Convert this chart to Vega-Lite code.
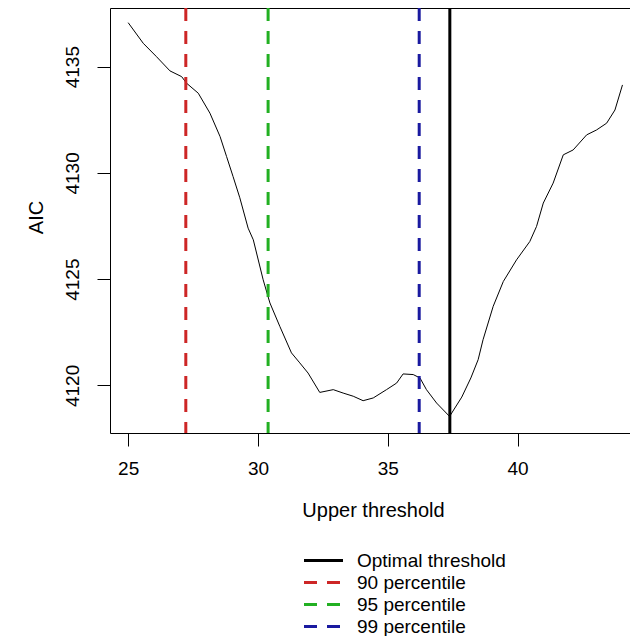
{
  "$schema": "https://vega.github.io/schema/vega-lite/v6.json",
  "autosize": {"type": "none"},
  "width": 520,
  "height": 425,
  "padding": {"left": 110, "top": 8, "right": 0, "bottom": 203},
  "background": "white",
  "config": {
    "view": {"stroke": null},
    "font": "Liberation Sans",
    "axis": {
      "domainColor": "black", "tickColor": "black", "labelColor": "black", "titleColor": "black",
      "grid": false, "labelFont": "Liberation Sans", "titleFont": "Liberation Sans",
      "labelFontSize": 19, "titleFontSize": 20, "titleFontWeight": "normal",
      "tickSize": 13, "domainWidth": 1, "tickWidth": 1
    }
  },
  "datasets": {
    "curve": [
      {"threshold": 25.00, "aic": 4137.07},
      {"threshold": 25.58, "aic": 4136.10},
      {"threshold": 26.09, "aic": 4135.47},
      {"threshold": 26.61, "aic": 4134.80},
      {"threshold": 27.06, "aic": 4134.53},
      {"threshold": 27.25, "aic": 4134.22},
      {"threshold": 27.70, "aic": 4133.75},
      {"threshold": 28.15, "aic": 4132.81},
      {"threshold": 28.54, "aic": 4131.71},
      {"threshold": 28.79, "aic": 4130.77},
      {"threshold": 29.04, "aic": 4129.83},
      {"threshold": 29.30, "aic": 4128.83},
      {"threshold": 29.62, "aic": 4127.40},
      {"threshold": 29.82, "aic": 4126.85},
      {"threshold": 30.20, "aic": 4124.97},
      {"threshold": 30.46, "aic": 4123.88},
      {"threshold": 30.84, "aic": 4122.78},
      {"threshold": 31.29, "aic": 4121.53},
      {"threshold": 31.61, "aic": 4121.06},
      {"threshold": 31.93, "aic": 4120.58},
      {"threshold": 32.38, "aic": 4119.67},
      {"threshold": 32.90, "aic": 4119.80},
      {"threshold": 33.28, "aic": 4119.64},
      {"threshold": 33.67, "aic": 4119.49},
      {"threshold": 34.05, "aic": 4119.28},
      {"threshold": 34.44, "aic": 4119.41},
      {"threshold": 34.95, "aic": 4119.80},
      {"threshold": 35.34, "aic": 4120.11},
      {"threshold": 35.59, "aic": 4120.54},
      {"threshold": 35.98, "aic": 4120.51},
      {"threshold": 36.24, "aic": 4120.35},
      {"threshold": 36.49, "aic": 4119.80},
      {"threshold": 36.88, "aic": 4119.17},
      {"threshold": 37.38, "aic": 4118.54},
      {"threshold": 37.85, "aic": 4119.45},
      {"threshold": 38.20, "aic": 4120.35},
      {"threshold": 38.48, "aic": 4121.21},
      {"threshold": 38.67, "aic": 4122.15},
      {"threshold": 39.06, "aic": 4123.72},
      {"threshold": 39.45, "aic": 4124.89},
      {"threshold": 39.96, "aic": 4125.91},
      {"threshold": 40.47, "aic": 4126.77},
      {"threshold": 40.73, "aic": 4127.48},
      {"threshold": 40.99, "aic": 4128.58},
      {"threshold": 41.37, "aic": 4129.52},
      {"threshold": 41.76, "aic": 4130.85},
      {"threshold": 42.14, "aic": 4131.08},
      {"threshold": 42.66, "aic": 4131.79},
      {"threshold": 43.04, "aic": 4132.02},
      {"threshold": 43.43, "aic": 4132.34},
      {"threshold": 43.75, "aic": 4132.96},
      {"threshold": 44.04, "aic": 4134.14}
    ],
    "refs": [
      {"label": "Optimal threshold", "x": 37.39},
      {"label": "90 percentile", "x": 27.22},
      {"label": "95 percentile", "x": 30.39},
      {"label": "99 percentile", "x": 36.21}
    ]
  },
  "resolve": {"axis": {"x": "independent"}},
  "layer": [
    {
      "data": {"name": "curve"},
      "mark": {"type": "line", "color": "black", "strokeWidth": 1},
      "encoding": {
        "x": {
          "field": "threshold", "type": "quantitative",
          "scale": {"domain": [24.3, 44.33], "nice": false, "zero": false},
          "axis": {
            "orient": "bottom", "values": [25, 30, 35, 40], "title": "Upper threshold",
            "labelPadding": 13, "titleX": 263, "titleY": 77, "titleBaseline": "middle", "titleAlign": "center"
          }
        },
        "y": {
          "field": "aic", "type": "quantitative",
          "scale": {"domain": [4117.76, 4137.76], "nice": false, "zero": false},
          "axis": {
            "values": [4120, 4125, 4130, 4135], "format": "d", "title": "AIC", "labelAngle": 270,
            "labelAlign": "center", "labelBaseline": "bottom", "labelPadding": 15,
            "titleX": -74, "titleY": 209, "titleAngle": 270, "titleBaseline": "middle", "titleAlign": "center"
          }
        }
      }
    },
    {
      "data": {"name": "refs"},
      "mark": {"type": "rule", "strokeWidth": 3},
      "encoding": {
        "x": {
          "field": "x", "type": "quantitative",
          "axis": {"orient": "top", "labels": false, "ticks": false, "title": null, "domain": true}
        },
        "color": {
          "field": "label", "type": "nominal",
          "scale": {
            "domain": ["Optimal threshold", "90 percentile", "95 percentile", "99 percentile"],
            "range": ["black", "#cd2626", "#22b022", "#1a1aa0"]
          },
          "legend": {
            "orient": "none", "legendX": 204, "legendY": 543, "title": null,
            "symbolType": "M-3,0H3", "symbolSize": 169, "symbolStrokeWidth": 3,
            "labelFontSize": 19, "labelFont": "Liberation Sans", "labelColor": "black",
            "labelOffset": 24, "rowPadding": 2, "padding": 0
          }
        },
        "strokeDash": {
          "field": "label", "type": "nominal",
          "scale": {
            "domain": ["Optimal threshold", "90 percentile", "95 percentile", "99 percentile"],
            "range": [[1, 0], [13, 10], [13, 10], [13, 10]]
          },
          "legend": {
            "orient": "none", "legendX": 204, "legendY": 543, "title": null,
            "symbolType": "M-3,0H3", "symbolSize": 169, "symbolStrokeWidth": 3,
            "labelFontSize": 19, "labelFont": "Liberation Sans", "labelColor": "black",
            "labelOffset": 24, "rowPadding": 2, "padding": 0
          }
        }
      }
    }
  ]
}
